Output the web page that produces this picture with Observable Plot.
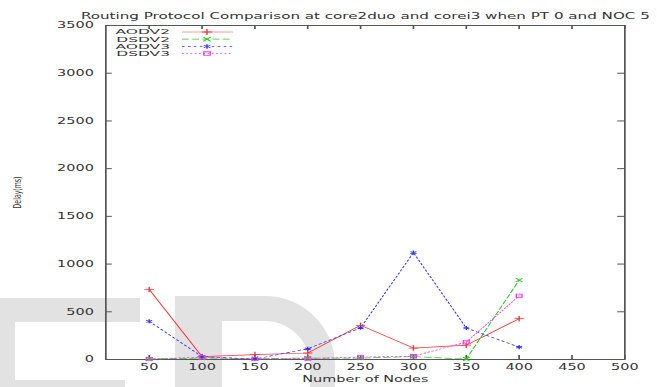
<!DOCTYPE html>
<html>
<head>
<meta charset="utf-8">
<script src="https://cdn.jsdelivr.net/npm/d3@7"></script>
<script src="https://cdn.jsdelivr.net/npm/@observablehq/plot@0.6"></script>
<style>
  html, body { margin: 0; padding: 0; background: #fff; }
  #wrap { position: relative; width: 657px; height: 387px; }
  #wrap svg { display: block; position: absolute; left: 0; top: 0; }
</style>
</head>
<body>
<div id="wrap"></div>
<script>
// Number of nodes on the x axis
const nodes = [50, 100, 150, 200, 250, 300, 350, 400];

// Delay (ms) per protocol / machine
const aodv2 = [735, 30, 52, 68, 358, 120, 150, 428];
const dsdv2 = [5, 15, 10, 15, 15, 30, 5, 832];
const aodv3 = [400, 30, 5, 112, 332, 1120, 330, 130];
const dsdv3 = [5, 25, 5, 10, 25, 35, 182, 667];

const seriesNames = ["AODV2", "DSDV2", "AODV3", "DSDV3"];
const seriesColors = ["#ff3030", "#22cc22", "#3030ff", "#ff30ff"];
const seriesDash = [null, "4,2", "1.5,2", "1,1.5"];
const seriesSymbols = ["plus", "times", "asterisk", "square"];

const xTicks = [50, 100, 150, 200, 250, 300, 350, 400, 450, 500];
const yTicks = [0, 500, 1000, 1500, 2000, 2500, 3000, 3500];

const titleText = "Routing Protocol Comparison at core2duo and corei3 when PT 0 and NOC 5";
const xLabel = "Number of Nodes";
const yLabel = "Delay(ms)";

// The chart is laid out on a narrower canvas and stretched sideways to 657px.
const STRETCH = 1.7;
const W = 657, H = 387;
const w = W / STRETCH;
const mLeft = 105 / STRETCH, mRight = 33 / STRETCH, mTop = 25, mBottom = 28;
const innerW = w - mLeft - mRight, innerH = H - mTop - mBottom;

const series = [aodv2, dsdv2, aodv3, dsdv3].map((values, i) => ({
  name: seriesNames[i],
  color: seriesColors[i],
  dash: seriesDash[i],
  symbol: seriesSymbols[i],
  rows: nodes.map((n, j) => ({node: n, delay: values[j]}))
}));

const font = "DejaVu Sans, sans-serif";
const axisColor = "#555";
const textColor = "#333";
const d3Symbols = {plus: d3.symbolPlus, times: d3.symbolTimes, asterisk: d3.symbolAsterisk, square: d3.symbolSquare};

// Legend block in the upper-left corner of the frame
function legend(index, scales, values, dim) {
  const g = d3.create("svg:g").attr("font-family", font).attr("font-size", 7).attr("fill", textColor);
  series.forEach((s, i) => {
    const y = dim.marginTop + 7 + i * 7.2;
    g.append("text")
      .attr("transform", `translate(${170 / STRETCH},${y}) scale(1.3,1)`)
      .attr("dy", "0.35em").attr("text-anchor", "end").text(s.name);
    g.append("line").attr("x1", 182 / STRETCH).attr("x2", 233 / STRETCH).attr("y1", y).attr("y2", y)
      .attr("stroke", s.color).attr("stroke-width", 0.7).attr("stroke-dasharray", s.dash);
    g.append("path").attr("transform", `translate(${207 / STRETCH},${y})`)
      .attr("d", d3.symbol(d3Symbols[s.symbol], 14)())
      .attr("fill", "none").attr("stroke", s.color).attr("stroke-width", 0.8);
  });
  return g.node();
}

const marks = [
  Plot.frame({stroke: axisColor, strokeWidth: 1}),
  // inward tick marks on all four sides
  Plot.tickY(yTicks, {y: d => d, stroke: axisColor, insetRight: innerW - 4}),
  Plot.tickY(yTicks, {y: d => d, stroke: axisColor, insetLeft: innerW - 4}),
  Plot.tickX(xTicks, {x: d => d, stroke: axisColor, insetTop: innerH - 4}),
  Plot.tickX(xTicks, {x: d => d, stroke: axisColor, insetBottom: innerH - 4}),
  Plot.axisY({ticks: yTicks, tickSize: 0, tickPadding: 12 / STRETCH, label: null, fontSize: 8.5, fill: textColor, tickFormat: d => String(d)}),
  Plot.axisX({ticks: xTicks, tickSize: 0, tickPadding: 4, label: null, fontSize: 8.5, fill: textColor, tickFormat: d => String(d)}),
  Plot.text([titleText], {frameAnchor: "top", dy: -13, fontSize: 8.9, fill: textColor}),
  Plot.text([xLabel], {frameAnchor: "bottom", dy: 22, fontSize: 8.5, fill: textColor}),
  Plot.text([yLabel], {frameAnchor: "left", textAnchor: "middle", dx: -(105 - 17) / STRETCH, rotate: -90, fontSize: 6.2, fill: textColor}),
  ...series.map(s => Plot.line(s.rows, {x: "node", y: "delay", stroke: s.color, strokeWidth: 0.7, strokeDasharray: s.dash})),
  ...series.map(s => Plot.dot(s.rows, {x: "node", y: "delay", stroke: s.color, symbol: s.symbol, r: 1.9, strokeWidth: 0.8})),
  legend
];

const chart = Plot.plot({
  width: w,
  height: H,
  marginLeft: mLeft,
  marginRight: mRight,
  marginTop: mTop,
  marginBottom: mBottom,
  style: {fontFamily: font, background: "transparent"},
  x: {domain: [9, 500], axis: null},
  y: {domain: [0, 3500], axis: null},
  marks
});

chart.setAttribute("width", W);
chart.setAttribute("height", H);
chart.setAttribute("preserveAspectRatio", "none");
chart.style.width = W + "px";
chart.style.height = H + "px";
chart.style.maxWidth = "none";

// Faint "ED" watermark lettering behind the chart
const mark = d3.create("svg").attr("width", W).attr("height", H);
mark.append("path")
  .attr("fill", "#e2e2e2")
  .attr("fill-rule", "evenodd")
  .attr("d", [
    // E
    "M0,298 H140 V322 H15 V380 H125 V387 H0 Z",
    // D
    "M175,296 H265 A70,70 0 0 1 335,366 V387 H175 Z",
    "M222,321 H265 A45,45 0 0 1 310,366 V387 H222 Z"
  ].join(" "));

const wrap = document.getElementById("wrap");
wrap.append(mark.node());
wrap.append(chart);
</script>
</body>
</html>
